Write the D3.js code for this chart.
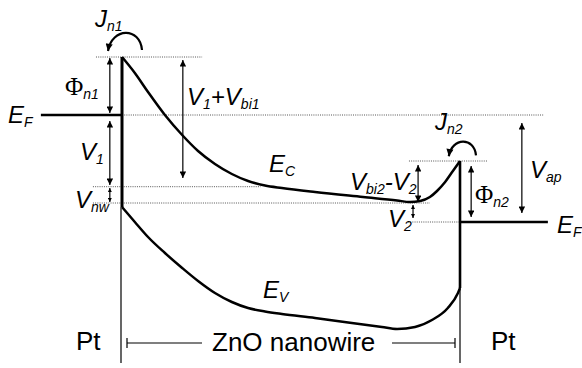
<!doctype html>
<html>
<head>
<meta charset="utf-8">
<title>ZnO nanowire band diagram</title>
<script src="https://cdn.jsdelivr.net/npm/d3@7"></script>
<style>
	body { margin: 0; background: #fff; }
	#main svg { display: block; }
	.lbl { font-family: "Liberation Sans", Arial, sans-serif; font-style: italic; font-size: 24px; fill: #000; }
	.sub { font-size: 14px; }
	.phi { font-family: "Liberation Serif", "Times New Roman", serif; font-style: normal; font-size: 25px; }
	.plain { font-family: "Liberation Sans", Arial, sans-serif; font-size: 26px; fill: #000; }
</style>
</head>
<body>
<div id="main"></div>
<script>
// position along the wire (0 = left Pt contact, 100 = right Pt contact)
var ecPos    = [0, 3.8, 7.7, 12.7, 17.8, 22.5, 27.5, 32.5, 37.3, 42.3, 47.3, 57.1, 71.3, 81.4, 85.2, 88.2, 91.1, 93.2, 95.6, 97.9, 100];
// conduction band edge, arbitrary energy units (E_F left = 0)
var ecEnergy = [5.8, 4.2, 2.3, 0, -2.0, -3.6, -4.9, -5.9, -6.6, -7.05, -7.3, -7.7, -8.2, -8.55, -8.7, -8.6, -8.2, -7.6, -6.7, -5.6, -4.6];
var evPos    = [0, 3.8, 7.7, 12.7, 17.8, 22.5, 27.5, 32.5, 37.3, 42.3, 47.3, 57.1, 66.9, 76.9, 81.4, 86.7, 91.7, 96.4, 99.4, 100];
var evEnergy = [-9.2, -10.7, -12.2, -13.8, -15.3, -16.6, -17.8, -18.7, -19.3, -19.65, -19.9, -20.3, -20.75, -21.2, -21.4, -21.2, -20.5, -19.3, -17.8, -17.3];

// energy levels
var barrierLeft = 5.8, fermiLeft = 0, ecFlat = -7.17, nwLevel = -8.8;
var barrierRight = -4.6, fermiRight = -10.7, bottomLevel = -24.8;

// dotted guide lines: [from pos, to pos, energy]
var guides = [
	[-7.7, 23.7, barrierLeft],
	[0, 124.6, fermiLeft],
	[-8.6, 41, ecFlat],
	[-8.6, 91.1, nwLevel],
	[84.9, 108, barrierRight],
	[84.6, 100, fermiRight]
];

// double arrows: [pos, energy top, energy bottom]
var arrows = [
	[-3.6, 5.7, 0.2],     // phi n1
	[-3.6, -0.6, -7.0],   // V1
	[18.0, 5.5, -6.3],    // V1+Vbi1
	[87.6, -5.0, -8.7],   // Vbi2-V2
	[103.3, -5.1, -10.2], // phi n2
	[118.3, -0.8, -9.8]   // Vap
];
var smallArrows = [
	[-3.6, -7.3, -8.7],   // Vnw
	[86.1, -9.0, -10.3]   // V2
];

var width = 582, height = 368;
var xScale = d3.scaleLinear().domain([0, 100]).range([122, 460]);
var yScale = d3.scaleLinear().domain([0, -10]).range([115, 215]);

var svg = d3.select('#main').append('svg')
	.attr('width', width)
	.attr('height', height);

var defs = svg.append('defs');
function addMarker(id, size) {
	defs.append('marker')
		.attr('id', id)
		.attr('viewBox', '0 0 10 10')
		.attr('refX', 10)
		.attr('refY', 5)
		.attr('markerWidth', size)
		.attr('markerHeight', size * 0.8)
		.attr('markerUnits', 'userSpaceOnUse')
		.attr('orient', 'auto-start-reverse')
		.append('path')
		.attr('d', 'M0,0 L10,5 L0,10 z')
		.attr('fill', '#000');
}
addMarker('head', 8);
addMarker('headSmall', 5);
addMarker('headArc', 9);

// dotted guides
svg.append('g').selectAll('line')
	.data(guides)
	.enter().append('line')
	.attr('x1', function(d) { return xScale(d[0]); })
	.attr('x2', function(d) { return xScale(d[1]); })
	.attr('y1', function(d) { return yScale(d[2]); })
	.attr('y2', function(d) { return yScale(d[2]); })
	.attr('stroke', '#555')
	.attr('stroke-width', 1)
	.attr('stroke-dasharray', '1,1.2');

// Pt contacts: thin lines down to the bottom
svg.append('line')
	.attr('x1', xScale(0) - 1).attr('x2', xScale(0) - 1)
	.attr('y1', yScale(evEnergy[0])).attr('y2', yScale(bottomLevel))
	.attr('stroke', '#000').attr('stroke-width', 1.2);
svg.append('line')
	.attr('x1', xScale(100)).attr('x2', xScale(100))
	.attr('y1', yScale(evEnergy[evEnergy.length - 1])).attr('y2', yScale(bottomLevel))
	.attr('stroke', '#000').attr('stroke-width', 1.2);

// barrier edges (thick)
svg.append('line')
	.attr('x1', xScale(0)).attr('x2', xScale(0))
	.attr('y1', yScale(barrierLeft)).attr('y2', yScale(evEnergy[0]))
	.attr('stroke', '#000').attr('stroke-width', 3);
svg.append('line')
	.attr('x1', xScale(100)).attr('x2', xScale(100))
	.attr('y1', yScale(barrierRight)).attr('y2', yScale(evEnergy[evEnergy.length - 1]))
	.attr('stroke', '#000').attr('stroke-width', 2.6);

// Fermi levels in the metal
svg.append('line')
	.attr('x1', xScale(-24)).attr('x2', xScale(0))
	.attr('y1', yScale(fermiLeft)).attr('y2', yScale(fermiLeft))
	.attr('stroke', '#000').attr('stroke-width', 2.6);
svg.append('line')
	.attr('x1', xScale(100)).attr('x2', xScale(126))
	.attr('y1', yScale(fermiRight)).attr('y2', yScale(fermiRight))
	.attr('stroke', '#000').attr('stroke-width', 2.6);

// band edges
var band = d3.line()
	.x(function(d) { return xScale(d[0]); })
	.y(function(d) { return yScale(d[1]); })
	.curve(d3.curveMonotoneX);

svg.append('path')
	.datum(d3.zip(ecPos, ecEnergy))
	.attr('d', band)
	.attr('fill', 'none').attr('stroke', '#000').attr('stroke-width', 2.5);
svg.append('path')
	.datum(d3.zip(evPos, evEnergy))
	.attr('d', band)
	.attr('fill', 'none').attr('stroke', '#000').attr('stroke-width', 2.5);

// double arrows
function drawArrows(list, marker) {
	svg.append('g').selectAll('line')
		.data(list)
		.enter().append('line')
		.attr('x1', function(d) { return xScale(d[0]); })
		.attr('x2', function(d) { return xScale(d[0]); })
		.attr('y1', function(d) { return yScale(d[1]); })
		.attr('y2', function(d) { return yScale(d[2]); })
		.attr('stroke', '#000')
		.attr('stroke-width', 1.2)
		.attr('marker-start', 'url(#' + marker + ')')
		.attr('marker-end', 'url(#' + marker + ')');
}
drawArrows(arrows, 'head');
drawArrows(smallArrows, 'headSmall');

// current arcs over each barrier top
function drawArc(px, py, s) {
	svg.append('path')
		.attr('d', 'M' + (px + 20 * s) + ',' + (py - 7 * s) +
			' C' + (px + 18 * s) + ',' + (py - 30 * s) +
			' ' + (px - 10 * s) + ',' + (py - 30 * s) +
			' ' + (px - 14 * s) + ',' + (py - 6 * s))
		.attr('fill', 'none')
		.attr('stroke', '#000')
		.attr('stroke-width', 2.2)
		.attr('marker-end', 'url(#headArc)');
}
drawArc(xScale(0), yScale(barrierLeft), 1);
drawArc(xScale(100), yScale(barrierRight), 0.8);

// labels: pieces of [text, kind]
function label(x, y, parts) {
	var t = svg.append('text').attr('class', 'lbl').attr('x', x).attr('y', y);
	var shift = 0;
	parts.forEach(function(p) {
		var s = t.append('tspan').text(p[0]);
		if (p[1] === 'phi') s.attr('class', 'phi');
		var want = p[1] === true ? 4 : 0;
		if (want !== shift) { s.attr('dy', want - shift); shift = want; }
		if (p[1] === true) s.attr('class', 'sub');
	});
	return t;
}

label(95, 27, [['J'], ['n1', true]]);
label(65, 95, [['\u03A6', 'phi'], ['n1', true]]);
label(8, 123, [['E'], ['F', true]]);
label(80, 160, [['V'], ['1', true]]);
label(75, 208, [['V'], ['nw', true]]);
label(187, 105, [['V'], ['1', true], ['+V'], ['bi1', true]]);
label(269, 172, [['E'], ['C', true]]);
label(350, 190, [['V'], ['bi2', true], ['-V'], ['2', true]]);
label(388, 227, [['V'], ['2', true]]);
label(435, 130, [['J'], ['n2', true]]);
label(475, 203, [['\u03A6', 'phi'], ['n2', true]]);
label(530, 178, [['V'], ['ap', true]]);
label(557, 233, [['E'], ['F', true]]);
label(263, 298, [['E'], ['V', true]]);

svg.append('text').attr('class', 'plain').attr('x', 76).attr('y', 350).text('Pt');
svg.append('text').attr('class', 'plain').attr('x', 491).attr('y', 350).text('Pt');
svg.append('text').attr('class', 'plain').attr('x', 212).attr('y', 351).text('ZnO nanowire');

// dimension bar under the wire
var dimY = 343;
svg.append('line').attr('x1', 127).attr('x2', 202).attr('y1', dimY).attr('y2', dimY)
	.attr('stroke', '#000').attr('stroke-width', 1.2);
svg.append('line').attr('x1', 392).attr('x2', 455).attr('y1', dimY).attr('y2', dimY)
	.attr('stroke', '#000').attr('stroke-width', 1.2);
[127, 455].forEach(function(x) {
	svg.append('line').attr('x1', x).attr('x2', x).attr('y1', dimY - 5).attr('y2', dimY + 5)
		.attr('stroke', '#000').attr('stroke-width', 1.2);
});
</script>
</body>
</html>
